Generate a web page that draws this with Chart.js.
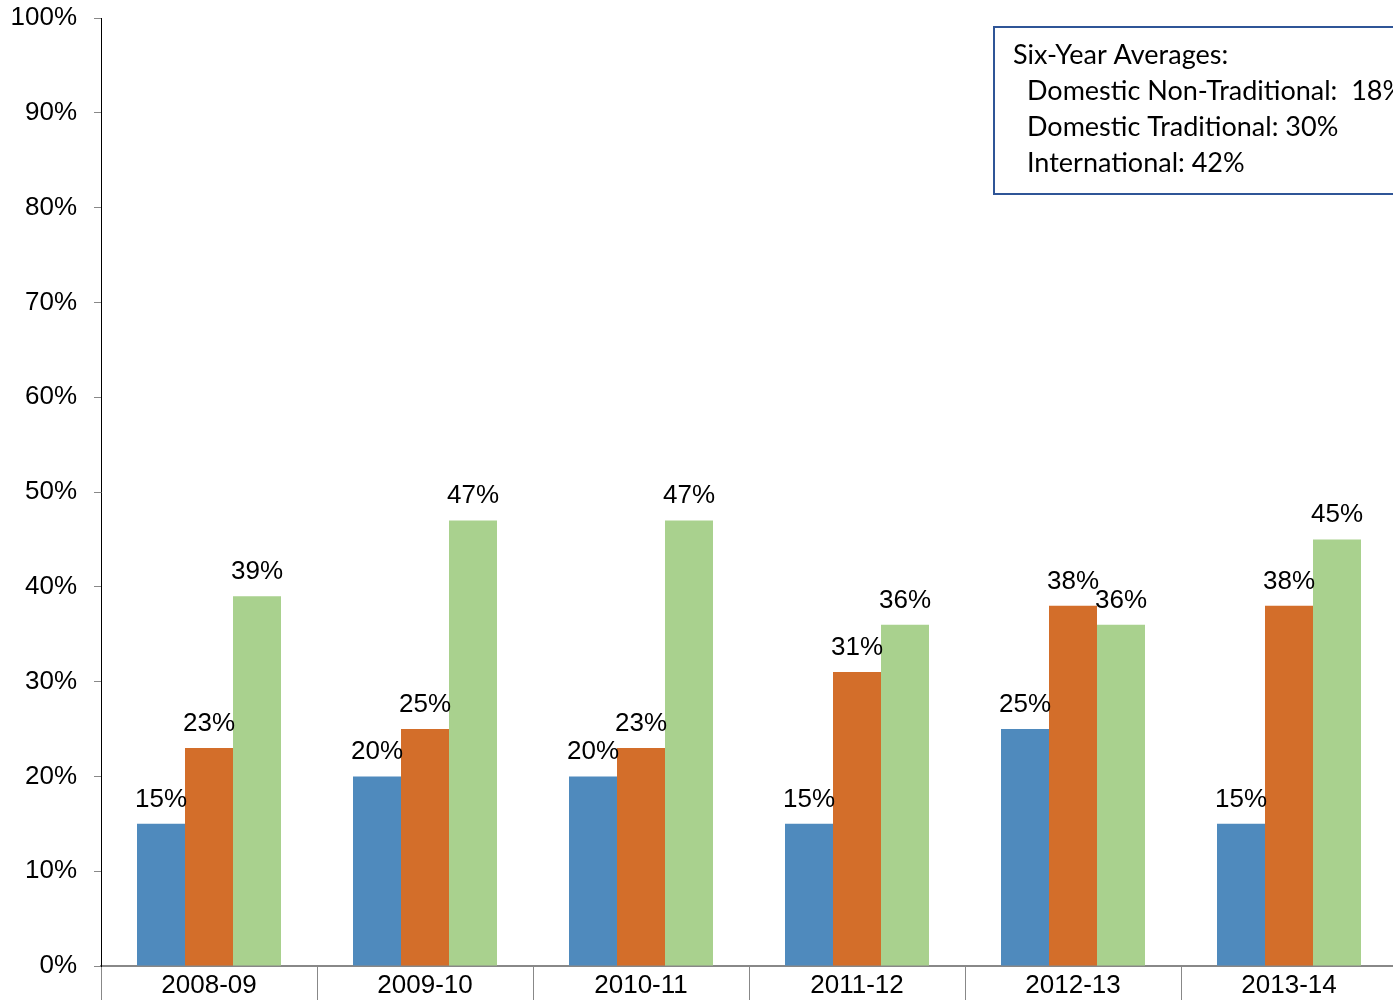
<!DOCTYPE html>
<html>
<head>
  <title>Six-Year Rates</title>
  <script src="https://cdn.jsdelivr.net/npm/chart.js"></script>
  <style>
    html, body { margin: 0; padding: 0; overflow: hidden; background: #fff; }
    #wrap { position: absolute; left: 0; top: 0; width: 1400px; height: 1012px; }
  </style>
</head>
<body>
  <div id="wrap"><canvas id="rateChart" width="1400" height="1012"></canvas></div>

  <script>
    const years = ['2008-09', '2009-10', '2010-11', '2011-12', '2012-13', '2013-14'];
    const nonTraditional = [15, 20, 20, 15, 25, 15];
    const traditional = [23, 25, 23, 31, 38, 38];
    const international = [39, 47, 47, 36, 36, 45];
    const yTicks = [0, 10, 20, 30, 40, 50, 60, 70, 80, 90, 100];
    const averagesTitle = 'Six-Year Averages:';
    const averages = [
      'Domestic Non-Traditional:  18%',
      'Domestic Traditional: 30%',
      'International: 42%'
    ];

    // percentage above every bar
    const valueLabels = {
      id: 'valueLabels',
      afterDatasetsDraw(chart) {
        const ctx = chart.ctx;
        ctx.save();
        ctx.font = '26px "Liberation Sans", Arial, sans-serif';
        ctx.fillStyle = '#000';
        ctx.textAlign = 'center';
        ctx.textBaseline = 'alphabetic';
        chart.data.datasets.forEach((ds, i) => {
          chart.getDatasetMeta(i).data.forEach((bar, j) => {
            ctx.fillText(ds.data[j] + '%', bar.x, bar.y - 17);
          });
        });
        ctx.restore();
      }
    };

    // boxed note with the averages, top right
    const averagesBox = {
      id: 'averagesBox',
      afterDraw(chart) {
        const ctx = chart.ctx;
        ctx.save();
        ctx.strokeStyle = '#2F5597';
        ctx.lineWidth = 2;
        ctx.strokeRect(994, 27, 420, 167);
        // size the font so "Domestic Traditional: 30%" is about 311px wide
        ctx.font = '100px Lato, "Noto Sans", sans-serif';
        const size = 100 * 311 / ctx.measureText(averages[1]).width;
        ctx.font = size.toFixed(1) + 'px Lato, "Noto Sans", sans-serif';
        ctx.fillStyle = '#000';
        ctx.textBaseline = 'alphabetic';
        ctx.fillText(averagesTitle, 1013, 64);
        averages.forEach((t, i) => ctx.fillText(t, 1027, 100 + i * 36));
        ctx.restore();
      }
    };

    new Chart(document.getElementById('rateChart'), {
      type: 'bar',
      data: {
        labels: years,
        datasets: [
          { label: 'Domestic Non-Traditional', data: nonTraditional, backgroundColor: '#4F8ABD' },
          { label: 'Domestic Traditional', data: traditional, backgroundColor: '#D36E2A' },
          { label: 'International', data: international, backgroundColor: '#A9D18E' }
        ]
      },
      options: {
        responsive: false,
        animation: false,
        layout: { padding: { top: 18, right: 3, left: 0, bottom: 0 } },
        datasets: { bar: { categoryPercentage: 144 / 216, barPercentage: 1 } },
        plugins: {
          legend: { display: false },
          tooltip: { enabled: false }
        },
        scales: {
          x: {
            grid: { drawOnChartArea: false, drawTicks: true, tickLength: 46, color: '#888', offset: true },
            border: { color: '#888', width: 2 },
            ticks: {
              color: '#000',
              font: { family: '"Liberation Sans", Arial, sans-serif', size: 26 },
              padding: -42
            },
            afterFit(scale) {
              scale.height = 46;
              scale.paddingLeft = 0;
              scale.paddingRight = 0;
            }
          },
          y: {
            min: 0,
            max: 100,
            afterBuildTicks(scale) { scale.ticks = yTicks.map(v => ({ value: v })); },
            grid: { drawOnChartArea: false, drawTicks: true, tickLength: 7, color: '#888' },
            border: { color: '#000', width: 1 },
            ticks: {
              color: '#000',
              font: { family: '"Liberation Sans", Arial, sans-serif', size: 26 },
              padding: 17,
              callback: v => v + '%'
            },
            afterFit(scale) {
              scale.width = 101;
              scale.paddingTop = 0;
              scale.paddingBottom = 0;
            }
          }
        }
      },
      plugins: [valueLabels, averagesBox]
    });
  </script>
</body>
</html>
